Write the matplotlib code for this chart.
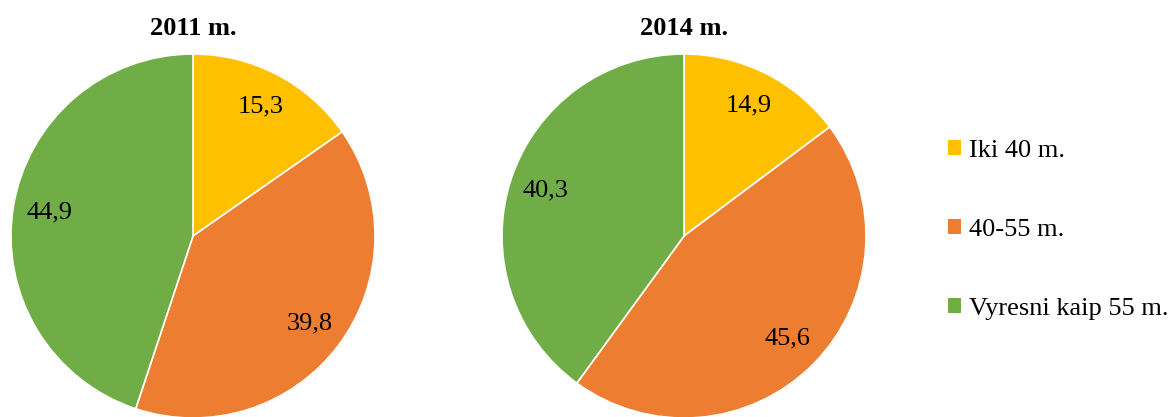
import matplotlib
matplotlib.use("Agg")
import matplotlib.pyplot as plt
from matplotlib.patches import Patch

plt.rcParams['font.family'] = ['Liberation Serif', 'DejaVu Serif']

categories = ["Iki 40 m.", "40-55 m.", "Vyresni kaip 55 m."]
colors = ["#FFC000", "#ED7D31", "#70AD47"]
titles = ["2011 m.", "2014 m."]
values_2011 = [15.3, 39.8, 44.9]
values_2014 = [14.9, 45.6, 40.3]

W, H = 1171, 417
fig = plt.figure(figsize=(W / 100, H / 100), dpi=100)


def pie_axes(cx, cy, r):
    return fig.add_axes([(cx - r) / W, (H - cy - r) / H, 2 * r / W, 2 * r / H])


def draw(ax, vals, title):
    it = iter(vals)
    ax.pie(vals, colors=colors, startangle=90, counterclock=False,
           autopct=lambda p: f"{next(it):.1f}".replace(".", ","),
           pctdistance=0.8, radius=1,
           wedgeprops=dict(edgecolor="white", linewidth=1.2),
           textprops=dict(fontsize=19, color="black"))
    ax.set_xlim(-1, 1)
    ax.set_ylim(-1, 1)
    ax.set_aspect("equal")
    ax.text(0, 1.14, title, ha="center", va="center", fontsize=19,
            fontweight="bold", transform=ax.transData)


ax1 = pie_axes(193, 236, 182)
draw(ax1, values_2011, titles[0])
ax2 = pie_axes(684, 236, 182)
draw(ax2, values_2014, titles[1])

handles = [Patch(facecolor=c, edgecolor="none") for c in colors]
fig.legend(handles, categories, loc="center left",
           bbox_to_anchor=(948 / W, (H - 230) / H), frameon=False,
           borderaxespad=0, borderpad=0,
           fontsize=19, handlelength=0.5, handleheight=0.5,
           handletextpad=0.3, labelspacing=2.17)

fig.savefig("out.png", dpi=100)
